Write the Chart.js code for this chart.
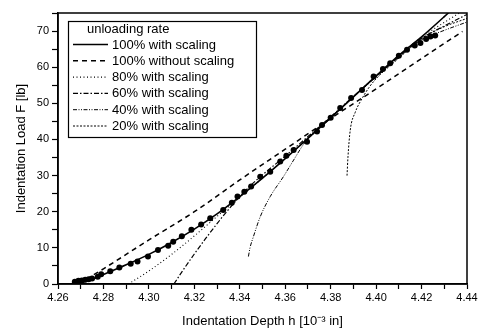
<!DOCTYPE html>
<html><head><meta charset="utf-8">
<script src="https://cdn.jsdelivr.net/npm/chart.js@4/dist/chart.umd.min.js"></script>
<style>html,body{margin:0;padding:0;background:#fff}</style>
</head><body>
<canvas id="c" width="480" height="329"></canvas>
<script>
// ---- data ----
const legendTitle = 'unloading rate';
const seriesLabels = ['100% with scaling','100% without scaling','80% with scaling','60% with scaling','40% with scaling','20% with scaling'];

const measDepth = [4.2674,4.2690,4.2705,4.2720,4.2735,4.2750,4.2775,4.2790,4.2830,4.2870,4.2920,4.2950,4.2996,4.3040,4.3085,4.3107,4.3145,4.3187,4.3230,4.3270,4.3327,4.3365,4.3390,4.3420,4.3450,4.3490,4.3534,4.3578,4.3605,4.3637,4.3696,4.3740,4.3762,4.3800,4.3842,4.3890,4.3938,4.3989,4.4030,4.4062,4.4100,4.4136,4.4170,4.4195,4.4220,4.4239,4.4260];
const measLoad  = [0.6,0.9,1.0,1.2,1.3,1.5,2.0,2.7,3.5,4.6,5.6,6.2,7.6,9.4,10.6,11.7,13.2,15.0,16.5,18.2,20.5,22.5,24.2,25.5,27.0,29.7,31.1,33.9,35.5,37.1,39.4,42.2,44.0,46.0,48.7,51.5,53.7,57.4,59.5,61.1,63.2,64.8,66.0,66.7,67.8,68.5,68.8];

const fit100Depth = [4.268,4.275,4.280,4.290,4.300,4.310,4.320,4.330,4.340,4.350,4.360,4.370,4.380,4.390,4.400,4.410,4.420,4.430,4.436];
const fit100Load  = [0,1.3,2.6,5.3,8.2,11.5,15.2,19.4,24.2,29.3,34.7,40.3,46.0,51.8,57.6,63.3,68.4,74.0,77.5];

const noScaleDepth = [4.269,4.280,4.300,4.320,4.340,4.360,4.380,4.400,4.420,4.438];
const noScaleLoad  = [0,4.2,12.2,20.0,28.8,37.3,45.8,54.0,62.4,69.9];

const fit80Depth = [4.291,4.300,4.310,4.320,4.330,4.340,4.350,4.360,4.370,4.380,4.390,4.400,4.410,4.420,4.430,4.440];
const fit80Load  = [0,3.6,8.2,13.3,18.7,24.0,29.3,34.7,40.3,46.0,51.8,57.6,63.2,68.3,72.4,76.3];

const fit60Depth = [4.311,4.315,4.320,4.325,4.330,4.335,4.340,4.345,4.350,4.360,4.370,4.380,4.390,4.400,4.410,4.420,4.430,4.440];
const fit60Load  = [0,3.8,8.3,12.6,16.7,20.6,24.2,27.4,30.2,35.4,40.8,46.3,51.9,57.4,62.9,68.0,71.4,74.6];

const fit40Depth = [4.3438,4.3445,4.3460,4.3490,4.3534,4.3592,4.3637,4.3680,4.3720,4.3800,4.3900,4.4000,4.4100,4.4200,4.4300,4.4400];
const fit40Load  = [7.6,10.0,13.1,18.6,24.2,29.7,34.3,38.6,41.6,46.2,51.8,57.3,62.7,67.6,70.2,72.5];

const fit20Depth = [4.3872,4.3876,4.3886,4.3908,4.3938,4.3970,4.4000,4.4100,4.4200,4.4300,4.4400];
const fit20Load  = [30.0,35.0,42.5,47.5,51.3,54.5,56.8,62.5,67.9,71.2,73.5];

const xTickMin = 4.26, xTickMax = 4.44, xStep = 0.01;
const yTickMin = 0, yTickMax = 75, yStep = 5;

// ---- build ----
const pts = (xs, ys) => xs.map((x, i) => ({x, y: ys[i]}));
const FONT = "'Liberation Sans', Arial, sans-serif";

function lineDs(label, xs, ys, dash, width) {
  return {
    label, data: pts(xs, ys), showLine: true, pointRadius: 0,
    borderColor: '#000', backgroundColor: '#000', borderWidth: width,
    borderDash: dash, cubicInterpolationMode: 'monotone', fill: false
  };
}

const datasets = [
  lineDs(seriesLabels[0], fit100Depth, fit100Load, [], 1.6),
  lineDs(seriesLabels[1], noScaleDepth, noScaleLoad, [5, 4], 1.5),
  lineDs(seriesLabels[2], fit80Depth, fit80Load, [1, 2.5], 1.1),
  lineDs(seriesLabels[3], fit60Depth, fit60Load, [5, 2, 1.5, 2], 1.2),
  lineDs(seriesLabels[4], fit40Depth, fit40Load, [4, 1.5, 1, 1.5, 1, 1.5], 1.0),
  lineDs(seriesLabels[5], fit20Depth, fit20Load, [2, 1.5], 1.0),
  { label: 'measured', data: pts(measDepth, measLoad), showLine: false,
    pointRadius: 3, pointStyle: 'circle', pointBackgroundColor: '#000',
    pointBorderColor: '#000', pointBorderWidth: 0, noLegend: true }
];

const framePlugin = {
  id: 'frame',
  afterDatasetsDraw(chart) {
    const {ctx, chartArea: a} = chart;
    ctx.save();
    ctx.strokeStyle = '#000'; ctx.lineWidth = 1.5; ctx.setLineDash([]);
    ctx.strokeRect(a.left, a.top, a.right - a.left, a.bottom - a.top);
    ctx.restore();
  }
};

const boxLegendPlugin = {
  id: 'boxLegend',
  afterDraw(chart) {
    const {ctx} = chart;
    const x0 = 68, y0 = 21, w = 188, h = 116;
    ctx.save();
    ctx.fillStyle = '#fff';
    ctx.fillRect(x0, y0, w, h);
    ctx.strokeStyle = '#000'; ctx.lineWidth = 1.2; ctx.setLineDash([]);
    ctx.strokeRect(x0 + 0.5, y0 + 0.5, w, h);
    ctx.fillStyle = '#000';
    ctx.font = '13px ' + FONT;
    ctx.textBaseline = 'middle';
    ctx.textAlign = 'left';
    ctx.fillText(legendTitle, 87, 29.5);
    const items = chart.data.datasets.filter(d => !d.noLegend);
    items.forEach((d, i) => {
      const y = 44.5 + i * 16.3;
      ctx.beginPath();
      ctx.strokeStyle = '#000';
      ctx.lineWidth = d.borderWidth;
      ctx.setLineDash(d.borderDash || []);
      ctx.moveTo(73, y); ctx.lineTo(108, y);
      ctx.stroke();
      ctx.setLineDash([]);
      ctx.fillText(d.label, 112, y + 0.5);
    });
    ctx.restore();
  }
};

new Chart(document.getElementById('c'), {
  type: 'scatter',
  data: { datasets },
  options: {
    responsive: false, animation: false, devicePixelRatio: 1,
    layout: { padding: { left: 0, right: 13, top: 13, bottom: 0 } },
    plugins: { legend: { display: false }, tooltip: { enabled: false } },
    scales: {
      x: {
        type: 'linear', min: xTickMin, max: xTickMax,
        afterFit(s) { s.height = 45; },
        ticks: {
          stepSize: xStep, autoSkip: false, maxRotation: 0, padding: 2,
          color: '#000', font: { family: FONT, size: 11 },
          callback: v => (Math.round(v * 100) % 2 === 0 ? v.toFixed(2) : '')
        },
        grid: { drawOnChartArea: false, tickLength: 5, tickColor: '#000', tickWidth: 1.2 },
        border: { display: true, color: '#000', width: 1.5 },
        title: { display: true, text: 'Indentation Depth h [10\u207B\u00B3 in]', color: '#000',
                 font: { family: FONT, size: 13 }, padding: { top: 0, bottom: 0 } }
      },
      y: {
        type: 'linear', min: yTickMin, max: yTickMax,
        afterFit(s) { s.width = 58; },
        ticks: {
          stepSize: yStep, autoSkip: false, padding: 3,
          color: '#000', font: { family: FONT, size: 11 },
          callback: v => (Math.round(v) % 10 === 0 ? String(Math.round(v)) : '')
        },
        grid: { drawOnChartArea: false, tickLength: 6, tickColor: '#000', tickWidth: 1.2 },
        border: { display: true, color: '#000', width: 1.5 },
        title: { display: true, text: 'Indentation Load F [lb]', color: '#000',
                 font: { family: FONT, size: 13 }, padding: { top: 14, bottom: 0 } }
      }
    }
  },
  plugins: [framePlugin, boxLegendPlugin]
});
</script>
</body></html>
